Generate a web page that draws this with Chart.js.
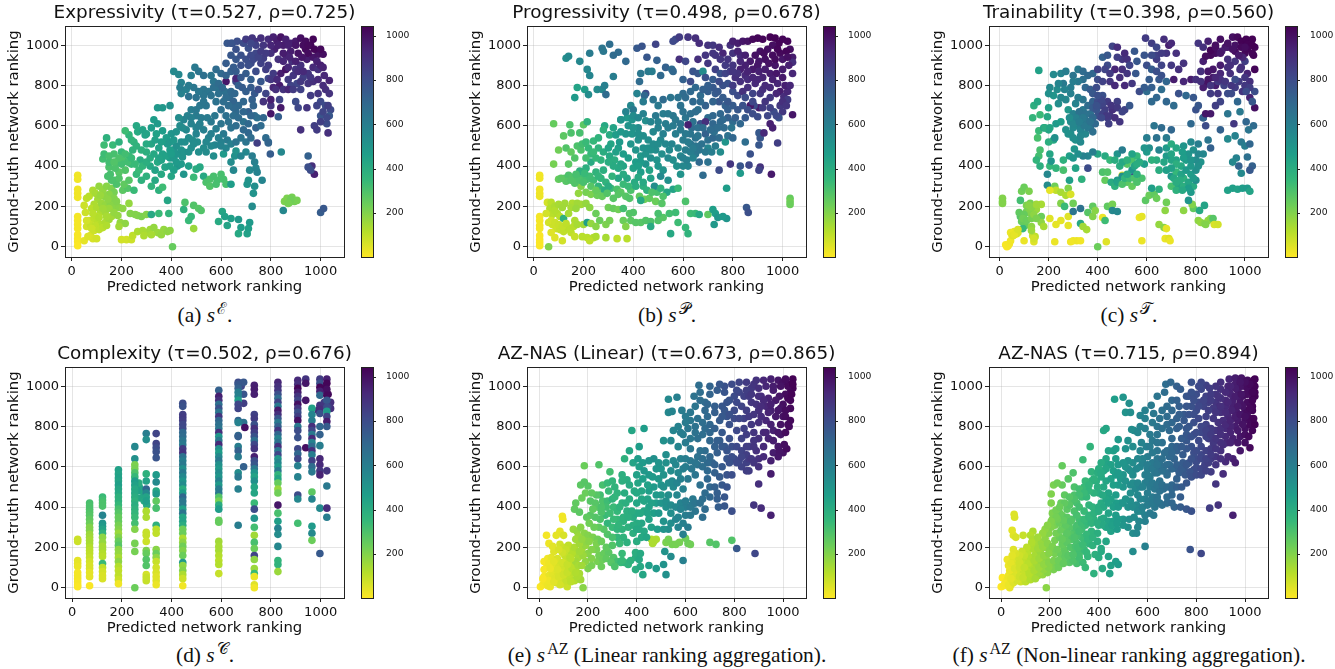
<!DOCTYPE html>
<html>
<head>
<meta charset="utf-8">
<script src="https://cdn.jsdelivr.net/npm/chart.js@4"></script>
<style>
  html, body { margin: 0; background: #fff; }
  canvas { position: absolute; }
  .cap { position: absolute; transform: translateX(-50%); white-space: nowrap; color: #111;
         font: 21.4px "Liberation Serif", serif; line-height: 24px; }
  .cap sup { font-size: 16px; line-height: 0; margin-left: 2px; }
</style>
</head>
<body>
<script>
// every row is [predicted rank, ground-truth rank, colour rank]; colour rank falls back to predicted rank
const expressivity = [
[24,355,20],[24,335,20],[24,285,22],[24,265,22],[24,245,22],[24,150,15],[24,130,15],[24,110,15],[24,90,15],[24,60,10],[24,40,10],[24,25,8],[24,5,5],
[50,205,80],[60,240,100],[70,250,110],[55,170,80],[60,100,70],[70,130,90],[75,55,60],[85,40,60],[50,30,40],[100,40,70],[65,50,55],
[85,280,130],[95,265,140],[110,300,170],[125,280,170],[140,300,190],[160,290,200],[170,270,220],[150,260,190],[130,250,180],[105,235,150],[90,210,130],[80,190,110],[100,195,130],[120,215,160],[135,205,170],[155,215,190],[170,200,190],[190,195,190],[205,190,180],[230,215,170],[115,170,130],[135,175,150],[150,190,160],[90,140,100],[105,120,110],[120,110,120],[75,110,90],[95,105,100],[135,120,130],[150,135,150],[160,150,150],
[195,120,170],[215,115,180],[190,100,150],[200,35,70],[220,35,70],[240,35,80],[245,55,100],[265,75,130],[285,80,140],[300,70,140],[315,85,150],[330,95,170],[345,70,160],[360,60,170],[370,85,170],[385,75,180],[395,80,180],[290,55,130],[320,60,140],
[235,165,200],[255,160,200],[265,155,200],[280,150,210],[300,160,200],[320,160,420],[350,165,340],[390,165,360],[470,130,340],[450,185,380],[480,150,350],[455,220,300],[490,205,290],[510,190,280],[520,180,290],[490,90,160],[405,0,250],[385,230,430],
[590,125,410],[605,175,430],[615,150,450],[640,140,460],[625,105,440],[670,135,490],[680,95,470],[670,65,420],[705,65,450],[710,90,460],[715,120,480],[725,200,540],[850,180,560],[1000,170,740],[1012,190,760],
[855,225,210],[865,240,210],[875,220,220],[885,245,220],[895,225,225],[905,230,220],[880,235,230],[870,215,220],
[130,505,330],[125,435,320],[130,460,330],[140,540,380],[150,395,300],[155,360,310],[165,505,340],[170,460,310],[180,420,290],[190,520,380],[200,470,340],[205,430,300],[215,380,290],[190,370,280],[170,330,310],[180,310,300],[205,280,270],[225,290,290],[250,280,340],[260,360,350],[240,410,340],[275,430,400],[230,450,340],[250,520,370],[265,570,410],[285,580,440],[295,555,450],[230,555,360],[215,575,330],[245,480,370],
[300,470,390],[320,510,430],[335,530,450],[350,490,450],[365,460,450],[315,400,420],[335,380,440],[350,440,440],[375,395,440],[395,440,470],[410,480,490],[385,510,480],[400,560,500],[365,575,470],[330,630,470],[345,610,480],[280,330,380],[300,350,380],[320,300,370],[350,280,380],[365,295,330],[335,330,420],
[425,400,500],[445,445,510],[450,360,500],[420,500,520],[440,520,530],[460,580,560],[480,610,580],[500,560,570],[505,520,540],[530,490,540],[480,490,530],[530,580,590],[550,540,580],[575,505,570],[560,620,620],[520,640,610],[500,650,610],[580,585,600],[610,560,620],[625,530,610],[640,590,650],
[500,385,400],[490,345,340],[515,395,420],[530,350,420],[540,320,300],[555,335,300],[570,350,310],[585,330,310],[600,360,310],[610,335,310],[620,310,310],[640,420,540],[610,460,480],[655,450,520],[660,475,510],[700,470,560],[680,450,570],[650,380,560],[640,310,470],
[705,310,500],[710,330,510],[715,380,560],[735,420,590],[725,450,600],[740,390,570],[745,370,580],[735,300,530],[730,265,510],[765,330,570],[780,540,680],[790,520,690],[798,460,740],[842,470,560],[710,565,700],[690,620,650],[740,590,720],[745,640,660],[735,650,670],[760,600,680],[770,640,700],[790,515,710],[745,515,850],
[560,850,640],[570,820,640],[585,790,650],[615,770,660],[635,740,690],[650,720,710],[590,760,660],[530,780,640],[470,745,650],[500,740,650],[540,700,640],[600,680,660],[620,650,660],[660,670,690],[690,720,700],[710,670,730],[725,730,720],[730,700,710],
[410,870,550],[430,855,560],[480,850,600],[495,890,620],[510,870,640],[460,780,590],[440,815,580],[530,850,660],[640,870,720],[620,910,740],[640,950,760],[660,930,760],[680,900,780],[700,860,740],[720,830,730],[740,870,800],[760,820,760],[625,1010,760],[645,1010,780],[665,1020,790],[690,1010,800],[710,985,790],[740,960,820],[660,820,800],[620,820,980],[660,835,930],[700,1030,860],[725,1035,880],[735,1020,880],
[760,1035,900],[770,1000,880],[790,1030,910],[810,1040,950],[825,1020,960],[840,1040,990],[850,1000,960],[815,980,950],[800,960,900],[770,935,850],[790,900,860],[780,880,850],[810,860,860],[840,860,960],[860,880,990],[835,800,960],[810,790,930],[780,760,830],[800,700,880],[770,720,890],[820,780,900],[835,730,830],[840,690,970],[800,660,980],[830,645,730],[800,730,950],[790,835,820],
[880,1010,950],[900,1020,970],[920,1035,1000],[940,1020,1010],[970,1030,1030],[960,1000,1030],[940,980,1020],[910,960,990],[880,970,960],[860,950,940],[885,920,900],[900,880,880],[920,900,900],[945,930,960],[970,940,980],[990,955,990],[1010,955,1000],[970,890,920],[990,880,900],[1015,850,930],[1035,825,940],[950,860,880],[930,840,850],[905,810,820],[880,800,830],[870,830,860],[920,780,840],
[960,750,860],[990,760,880],[1020,780,900],[1035,760,890],[1000,720,810],[1020,700,800],[1040,680,810],[1035,650,760],[1000,650,770],[1025,610,800],[1000,620,850],[975,600,850],[985,580,860],[1030,565,900],[920,580,900],[900,720,800],[910,690,820],[945,690,880],[965,400,900],[975,360,950],[950,450,720],[960,380,800],[950,395,790],
[170,240,200],[180,225,200],[145,235,180],[115,255,160],[125,190,150],[100,150,110],[85,165,110],[110,145,120],[140,150,140],[170,170,170],[185,155,170],[60,130,70],[90,80,80],[80,90,80],[110,85,100],[125,95,110],[140,105,125],
[210,310,260],[230,330,280],[190,340,290],[160,330,300],[145,350,310],[150,420,320],[175,390,300],[200,410,320],[225,420,320],[240,440,340],[255,410,340],[270,380,340],[285,400,360],[300,420,390],[315,440,400],[330,460,420],[345,420,420],[360,430,440],[380,450,450],[395,480,470],[410,440,490],[425,460,500],[440,480,510],[455,520,530],[470,540,540],[485,530,540],[500,590,570],[515,610,590],[380,540,470],[395,520,490],[410,530,490],[420,570,510],[435,600,540],[450,630,570],[465,650,580],[480,680,600],[500,680,620],[515,700,630],[530,720,640],[550,770,640],[570,790,660],[590,810,680],[605,790,690],[620,740,680],[640,770,690],[655,760,700],[670,800,730],[685,790,740],[700,770,730],[720,790,740],[735,760,750],[750,780,800],[660,870,740],[680,950,780],[700,930,790],[720,910,800],[740,1000,840],[760,910,840],[780,960,860],[830,930,900],[850,920,930],[870,890,930],[890,850,880],[910,870,910],[930,870,920],[950,810,880],[970,820,900],[990,830,920],[1010,800,910],[860,1030,950],[870,1000,950],[900,1000,980],[930,1000,1010],[950,1000,1020],[1000,900,950],[1030,700,850],[1010,670,830],[1025,640,820],[985,700,830],[560,500,560],[600,520,590],[540,470,540],[570,450,530],[470,400,460],[440,410,480],[410,380,460],[395,400,450],[360,360,420],[400,350,430],[555,300,290],[580,310,310],
[260,600,420],[300,560,440],[320,590,470],[345,690,490],[395,700,520],[365,690,490],[440,760,580],[430,640,540],[445,590,540],[480,640,590],[510,600,590],[545,640,610],[575,650,630],[600,610,640],[630,620,650],[650,650,670],[670,640,680],[690,580,690],[710,610,690],[720,650,700],[690,670,700],[670,700,690],[650,690,690],[630,700,680],[610,720,670],[580,720,650],[560,750,650],[530,750,640],[510,770,630],[490,790,630],[470,800,610],[435,790,600],[600,860,690],[580,880,680],[620,850,710],[650,890,740],[680,840,750],[710,900,790],[730,930,810],[660,980,780],[640,1010,770],[720,950,810],[750,940,830],[800,830,870],[825,830,920],[850,780,890],[870,780,930],[890,780,860],[920,820,870],[850,960,960],[875,940,940],[900,920,950],[925,940,980],[950,960,1010],[975,980,1030],[1000,980,1020],[985,920,950],[1010,890,940],[960,840,880],[800,1000,930],[830,1000,950],[760,970,860],[720,1010,820],[420,420,480],[400,460,470],[450,470,510],[470,470,520],[490,510,540],[510,470,530],[540,520,560],[560,560,590],[590,540,590],[600,500,580],[620,490,570],[640,510,590],[660,520,640],[680,540,640],[700,520,640],[720,540,680],[660,600,670],[240,530,360],[260,500,370],[280,480,380],[300,510,410],[340,560,450],[360,520,460],[190,440,300],[215,460,320],[170,420,290],[150,450,310]
];
const progressivity = [
[24,355,20],[24,340,20],[24,285,22],[24,265,22],[24,250,25],[24,150,15],[24,130,15],[24,105,15],[24,90,15],[24,55,8],[24,35,8],[24,20,5],[24,5,5],[60,0,200],
[55,220,70],[70,220,110],[65,190,120],[75,160,110],[50,165,70],[85,200,130],[95,165,120],[105,150,110],[60,120,70],[75,110,80],[90,90,80],[105,85,90],[120,75,100],[135,95,110],[150,70,100],[70,70,50],[85,45,50],[115,30,70],[165,50,90],[195,50,110],[215,45,110],[240,45,120],[250,50,130],[225,30,100],[290,45,140],[335,40,100],[375,40,110],
[155,215,130],[175,215,150],[190,210,150],[125,215,150],[120,140,380],[165,130,130],[200,110,150],[215,120,460],[230,115,170],[250,165,240],[265,130,240],[250,100,190],[290,110,210],[305,130,220],[300,195,230],[320,190,250],[340,185,230],[360,130,240],[370,100,200],[390,130,270],[410,120,280],[360,190,320],[385,165,280],[400,170,290],
[180,265,170],[190,300,200],[210,270,220],[230,260,210],[255,255,240],[270,285,260],[290,320,370],[310,290,340],[335,285,300],[350,270,270],[370,250,280],[385,240,290],[425,250,260],[445,235,230],[465,240,260],[490,225,240],[515,215,280],[495,270,310],[535,270,430],[560,285,440],[580,290,340],[610,225,300],[430,230,420],
[100,335,250],[125,340,290],[140,355,300],[155,345,290],[175,340,300],[195,350,320],[215,335,320],[240,330,330],[165,315,290],[130,325,280],[185,375,380],[210,390,390],[230,420,410],[250,370,370],[260,300,360],[285,280,400],[300,300,400],[340,340,430],[315,350,370],[80,410,220],[140,410,270],[165,440,290],[190,480,300],[100,480,230],[130,490,290],[150,470,260],[175,500,300],[195,510,320],[220,490,350],[240,525,350],[260,490,370],[280,470,400],[305,450,420],[325,430,400],[310,510,430],[340,490,460],
[120,550,270],[150,565,300],[185,565,310],[285,600,420],[80,610,250],[145,605,300],[200,605,270],[215,620,370],[280,580,380],[305,555,410],[330,555,470],[350,630,500],[375,640,490],[395,630,500],[420,590,540],[450,625,530],[345,520,480],[370,560,500],[390,510,500],[410,480,500],[430,450,490],[450,410,510],[470,440,530],[490,480,540],[510,530,560],[480,570,560],[530,610,600],[560,600,610],[500,400,500],[520,380,510],[540,440,550],[555,510,570],[580,490,560],[470,340,450],[485,300,530],[510,350,550],[540,330,520],[360,400,440],[400,390,450],[430,370,470],[465,380,440],[380,440,470],[350,410,430],[375,340,430],[600,530,610],[590,450,560],[610,480,600],[630,510,640],[650,540,650],[620,400,570],[590,360,510],[650,460,630],[665,420,690],[680,355,680],[635,590,680],
[600,440,590],[430,120,280],[450,130,290],[470,125,300],[500,130,290],[520,145,280],[470,100,410],[500,165,310],[545,165,320],[570,170,330],[630,165,330],[650,165,340],[665,160,420],[700,160,260],[720,185,460],[730,165,470],[740,145,500],[775,140,500],[760,150,480],[725,110,490],[550,65,420],[580,120,330],[610,95,350],[620,65,370],[775,290,470],[830,365,480],[1030,240,250],[1030,225,230],[1030,210,240],[855,195,760],[862,170,790],
[165,740,480],[175,790,440],[205,780,470],[220,755,540],[255,780,540],[275,780,560],[290,755,680],[285,800,590],[215,880,560],[225,850,570],[130,935,530],[140,945,550],[185,920,560],[225,960,610],[275,985,640],[305,1005,670],[320,950,680],[340,965,680],[370,920,690],[320,845,600],[280,970,630],[415,985,750],[435,995,770],[455,940,760],[490,1005,830],[495,925,720],[530,890,720],[510,850,690],[555,880,680],[585,930,900],[610,920,820],[430,860,630],[460,870,620],[475,870,600],[425,820,680],[450,760,800],[445,750,700],
[415,760,580],[440,720,610],[480,730,640],[390,700,560],[400,680,620],[370,670,570],[350,630,510],[520,730,680],[490,650,620],[500,700,620],[550,740,640],[560,650,630],[590,700,650],[560,870,700],[600,830,720],[630,820,800],[640,870,770],[660,860,760],[680,870,540],[600,760,680],[650,790,690],[670,750,680],[640,720,690],[660,680,660],[690,700,720],[700,640,670],[720,610,700],[670,610,780],[640,620,650],[630,560,640],[660,590,660],[690,560,720],[700,530,660],[720,540,700],[700,490,570],[730,500,610],[750,470,540],[745,540,680],[770,520,500],[780,550,650],
[570,1030,820],[585,1040,860],[620,1040,880],[650,1035,900],[560,1020,810],[665,1010,910],[700,1000,890],[720,1000,870],[745,990,900],[690,950,880],[660,930,900],[700,910,870],[730,880,840],[750,860,780],[720,830,740],[800,770,790],[780,810,780],[820,750,800],[770,700,720],[800,700,740],[750,660,700],[800,620,680],[830,610,700],[810,640,730],[780,720,760],[760,800,780],
[790,1000,900],[800,960,890],[830,950,920],[760,960,930],[800,1020,950],[820,1010,960],[840,1020,980],[860,1020,990],[880,1030,1020],[900,1035,1030],[920,1030,1030],[950,1040,1040],[970,1035,1040],[985,1010,1030],[1000,1030,1030],[1020,1020,1030],[1030,980,1000],[1040,940,960],[1040,915,900],[1040,860,930],[960,1000,1000],[940,980,1000],[910,970,990],[890,950,990],[870,920,970],[850,900,950],[830,880,950],[810,840,900],[850,850,920],[880,880,970],[900,900,980],[930,930,1000],[960,950,1010],[990,960,1020],[1000,930,980],[970,900,980],[950,860,960],[920,840,940],[890,810,920],[860,790,900],[840,770,900],[880,760,830],[910,760,870],[950,790,920],[980,810,930],[1000,840,970],[990,770,960],[1005,745,910],[1020,770,930],[1020,730,860],[990,700,870],[1000,670,870],[985,640,780],[965,670,800],[930,720,880],[950,690,840],[905,690,960],[885,700,800],[940,650,820],[900,645,800],[870,700,970],[950,610,950],[960,590,950],[1040,655,980],[910,540,760],[905,565,750],[870,460,780],[850,520,670],[800,540,700],[790,410,880],[830,400,770],[865,405,820],[910,395,890],[905,380,830],[745,380,800],[690,620,900],[620,605,950],[955,360,970],[980,515,850],[905,505,760],[925,565,920],
[110,340,270],[150,330,290],[185,330,300],[200,320,310],[225,350,330],[170,360,310],[205,365,340],[270,340,370],[230,300,280],[250,280,250],[275,250,250],[295,265,290],[320,240,280],[340,260,280],[360,310,340],[390,280,300],[405,320,410],[420,345,420],[440,300,390],[455,280,380],[475,270,300],[510,290,380],[520,250,300],[410,420,470],[430,420,480],[450,460,510],[470,480,520],[495,430,510],[515,460,530],[530,510,560],[545,480,550],[560,430,530],[575,400,520],[600,400,560],[615,430,590],[630,470,600],[640,440,580],[665,480,640],[675,510,650],[690,470,620],[700,420,650],[715,470,600],[650,500,640],[610,560,620],[590,580,620],[570,560,600],[540,590,600],[520,560,590],[500,590,580],[460,530,530],[440,550,530],[420,530,520],[395,560,500],[360,460,470],[330,470,450],[300,490,440],[270,430,370],[250,440,350],[230,460,350],[210,440,320],[70,130,70],[85,120,80],[100,110,85],[115,100,95],[130,115,100],[145,85,105],[160,100,115],[175,110,140],[85,180,120],[100,210,140],[115,195,150],[140,165,140],[150,195,140],[170,190,160],[210,215,170],[225,195,180],[725,570,660],[735,590,680],[750,620,690],[765,590,680],[780,640,720],[795,590,640],[720,650,700],[745,720,760],[730,760,740],[720,790,750],[700,770,730],[690,840,780],[745,820,800],[770,860,830],[790,870,850],[820,860,890],[800,900,880],[770,900,860],[730,950,880],[800,800,860],[830,820,900],[860,830,910],[880,840,930],[905,870,950],[930,880,960],[975,860,980],[1000,880,960],[1025,900,950],[975,760,930],[950,740,870],[920,780,900],[880,720,820],[850,740,800],[860,680,800],
[380,600,510],[400,650,540],[420,640,560],[440,660,580],[470,620,570],[500,620,590],[520,660,600],[540,660,610],[570,630,620],[590,610,640],[610,640,640],[630,660,660],[600,670,650],[580,740,650],[610,740,680],[630,770,690],[680,780,720],[700,800,730],[720,720,710],[740,770,750],[760,740,740],[780,680,730],[760,630,690],[740,590,680],[710,580,680],[660,550,640],[640,490,610],[620,520,610],[680,590,680],[650,670,670],[670,720,690],[440,320,420],[410,300,400],[380,300,340],[360,360,410],[340,390,420],[320,400,410],[300,420,400],[280,380,390],[260,350,360],[420,400,460],[440,490,520],[460,490,520],[480,510,540],[500,510,540],[420,560,520],[400,590,510],[350,570,490],[320,590,440],[260,540,370],[240,470,340],[210,520,340],[905,920,980],[925,960,1010],[945,910,990],[970,930,1010],[980,980,1030],[1015,970,1030],[1020,940,1000],[850,950,950],[820,970,940],[780,930,880],[750,930,880],[720,960,880],[830,920,930],[800,870,880],[860,870,940],[900,830,930],[930,800,920],[960,830,950],[1010,800,950],[1030,800,930],[840,700,780],[820,680,760],[850,640,750],[880,660,800],[920,690,860],[1000,720,900],[1015,700,880],[975,650,810]
];
const trainability = [
[12,240,200],[12,225,200],[12,215,200],[25,10,10],[30,0,8],[35,5,12],[40,15,15],[45,30,20],[50,60,30],[60,75,40],[65,65,60],[45,70,30],[55,55,50],[75,70,70],
[100,30,30],[140,25,50],[135,55,80],[145,50,100],[105,105,250],[95,90,350],[90,125,250],[85,150,280],[80,170,260],[85,230,320],[90,275,230],[100,295,240],[120,275,210],[125,215,220],[110,205,210],[120,190,180],[135,180,200],[150,185,160],[170,210,140],[170,150,240],[170,120,180],[180,100,140],[130,100,180],[130,80,160],[140,40,70],
[165,480,310],[160,450,320],[150,430,360],[165,400,390],[155,540,310],[160,575,340],[135,640,360],[165,655,340],[140,700,390],[155,720,420],[200,690,450],[195,645,420],[200,580,430],[220,530,420],[200,520,390],[225,540,520],[180,590,440],[205,400,350],[210,425,500],[205,460,430],[195,360,560],[230,390,360],[260,380,310],[260,430,380],[285,450,460],[305,485,500],[310,390,440],[360,390,800],[335,335,380],[285,330,460],[195,305,540],[225,300,230],[230,280,100],[250,270,140],[270,255,130],[280,290,200],[290,260,60],[205,280,40],[250,215,200],
[265,200,340],[280,150,50],[300,215,230],[300,175,640],[330,190,650],[330,115,420],[355,85,140],[340,100,150],[315,30,30],[300,30,25],[290,25,20],[330,30,20],[225,25,30],[230,110,40],[250,130,40],[205,140,50],[280,105,40],[360,170,280],[380,200,260],[380,150,200],[390,180,190],[420,145,30],[400,0,240],[430,130,330],[435,25,50],[440,200,260],[460,210,220],[460,180,560],[480,175,560],[500,355,30],
[570,145,25],[580,150,40],[580,30,30],[595,230,270],[610,255,240],[630,260,260],[640,240,240],[650,285,380],[620,290,460],[650,110,170],[670,95,190],[680,90,40],[675,40,30],[690,40,50],[695,30,30],[675,180,180],[680,220,230],[750,180,180],[790,190,260],[785,210,200],[815,180,420],[835,205,440],
[810,130,180],[820,120,170],[835,115,190],[850,130,170],[860,140,190],[870,140,280],[875,110,60],[890,110,70],[840,110,200],
[930,280,450],[950,290,460],[970,285,450],[990,290,470],[1010,290,480],[1020,275,440],
[420,370,300],[440,370,290],[430,330,250],[455,320,410],[470,300,380],[480,330,480],[500,350,520],[520,320,270],[540,300,250],[560,320,300],[580,340,310],[520,410,280],[540,430,300],[560,450,350],[590,410,470],[540,380,500],[545,345,800],[400,460,430],[430,450,410],[450,430,350],[480,460,510],[490,400,400],[380,470,600],[360,450,570],[340,450,580],[320,460,530],[300,440,500],[470,430,400],[500,480,600],[540,460,440],
[650,380,400],[680,380,460],[700,350,500],[720,370,350],[740,400,420],[760,430,470],[730,300,430],[700,300,310],[720,280,380],[750,340,380],[780,360,470],[800,380,520],[820,420,510],[830,460,560],[790,300,410],[780,270,480],[770,230,500],[800,330,530],[680,490,480],[700,510,400],[720,490,420],[750,500,500],[780,520,550],[810,510,600],[640,540,650],[650,480,570],[610,490,530],[600,540,600],[630,600,640],[660,590,680],[680,540,610],[700,580,700],[780,610,690],[830,640,740],[850,530,640],[860,490,720],[800,680,780],[830,640,720],
[185,590,400],[205,590,430],[230,610,480],[250,620,470],[270,580,520],[290,560,530],[310,530,520],[330,520,550],[350,560,560],[370,590,640],[390,610,690],[290,620,530],[280,680,490],[240,710,530],[220,750,500],[205,790,550],[235,780,540],[250,740,560],[270,730,560],[300,660,580],[320,650,600],[340,680,620],[310,710,580],[360,700,680],[380,720,720],[410,700,810],[430,680,850],[450,650,870],[470,640,900],[490,620,880],[370,660,660],[350,630,650],[325,670,650],[400,650,780],[420,750,780],[440,720,860],[460,680,900],[480,720,850],[510,680,830],[530,700,760],[160,875,450],[220,855,550],[250,860,570],[270,870,600],[300,850,640],[320,880,620],[340,870,680],[360,850,690],[380,860,700],[260,810,620],[290,790,600],[350,790,700],[370,780,740],[395,790,800],[400,880,840],[420,940,720],[460,995,830],[480,990,910],[500,930,880],[510,960,920],[550,970,760],[440,900,800],[470,880,930],[500,880,900],[520,860,880],[555,860,760],[570,770,800],[540,810,870],[510,800,920],[490,840,900],[430,880,830],
[595,1035,860],[620,1010,850],[640,990,820],[670,1030,900],[690,1000,950],[640,930,860],[660,900,830],[600,900,790],[590,950,770],[620,880,740],[680,960,880],[700,900,870],[730,880,900],[750,910,890],[650,830,750],[680,820,700],[710,830,960],[750,820,930],[780,830,960],[800,830,900],[640,740,700],[660,780,670],[600,770,680],[620,720,690],[680,720,700],[710,700,680],[730,760,780],[760,750,690],[790,740,760],[810,700,760],[810,1010,880],[830,990,900],[850,1020,950],[860,950,1020],[880,960,1010],[900,1030,1000],[920,990,980],[950,1040,1000],[970,1040,1020],[985,1020,1040],[1005,1030,1040],[1030,1030,1040],[1040,990,1030],[1035,950,1030],[1000,960,1020],[960,970,1010],[930,930,900],[900,900,960],[870,880,980],[830,920,950],[820,870,900],[850,830,980],[880,800,960],[910,820,900],[940,860,900],[980,880,890],[1000,920,850],[1010,860,940],[1040,880,1030],[1020,820,900],[990,770,880],[960,790,860],[930,760,800],[900,720,830],[880,700,850],[860,660,970],[840,660,980],[1020,740,940],[1040,770,790],[1040,690,1000],[1030,720,760],[970,720,700],[980,670,620],[930,660,640],[955,610,870],[900,580,720],[960,550,580],[1005,620,700],[1035,600,680],[1015,580,640],[985,520,620],[1000,500,600],[1020,510,700],[965,440,580],[1010,445,660],[1030,400,720],[1020,380,750],[975,400,720],[950,420,560],[985,365,550],[930,535,550],[840,600,800],
[320,600,590],[340,620,610],[360,610,640],[330,580,570],[300,590,550],[310,640,590],[350,660,650],[380,690,740],[400,720,800],[420,660,840],[440,640,860],[420,710,830],[400,700,820],[380,640,690],[280,560,520],[300,540,530],[330,550,560],[710,340,420],[730,330,400],[750,300,390],[770,320,430],[740,360,440],[760,380,480],[780,400,490],[800,430,540],[770,460,500],[745,470,470],[720,430,440],[700,430,430],[680,450,480],[790,480,520],[810,460,560],[480,320,440],[500,310,300],[510,340,360],[530,340,330],[550,340,300],[560,360,380],[520,360,420],[550,400,430],[570,420,400],[500,420,420],[70,65,60],[60,60,40],[75,85,60],[110,175,220],[120,170,200],[100,160,250],[95,140,230],[110,130,240],[130,140,220],[140,160,180],[150,140,210],[130,195,190],[150,210,150],[120,205,190],[840,945,1010],[860,975,1030],[880,990,1000],[905,970,960],[930,990,970],[960,1000,990],[985,990,1020],[1010,1005,1040],[1030,1000,1040],[1010,980,1030],[990,940,940],[960,920,880],[930,890,900],[900,860,930],[870,840,970],[845,810,990],[830,790,960],[860,800,880],[890,820,870],[915,800,840],[945,800,880],[975,820,860],[1000,800,870],[960,830,800],
[300,610,560],[340,640,620],[360,590,620],[380,570,660],[345,600,620],[325,620,600],[285,640,540],[370,620,650],[395,680,770],[415,730,820],[435,650,870],[455,700,880],[445,610,850],[395,700,780],[415,640,810],[480,690,870],[500,670,830],[380,760,760],[400,750,790],[340,730,640],[320,740,600],[290,760,590],[265,780,580],[240,810,570],[700,460,430],[720,410,390],[750,440,470],[780,430,500],[810,400,520],[790,340,480],[770,290,470],[735,330,400],[745,280,420],[720,320,400],[700,390,450],[670,420,430],[640,430,400],[620,430,380],[600,470,480],[590,490,500],[560,410,400],[520,430,380],[880,1000,1000],[900,960,980],[930,1010,990],[950,980,990],[975,950,970],[1000,990,1010],[1030,960,1030],[985,890,900],[940,900,900],[900,830,900],[880,840,930],[850,870,980],[820,820,900],[860,760,860],[890,760,880],[920,820,880],[945,760,800],[1000,840,880],[1020,790,850],[1005,770,800],[640,950,840],[660,960,860],[720,960,900],[700,1010,920],[620,950,800],[640,870,790],[610,830,740],[660,850,780],[590,790,740],[620,790,730],[520,930,900],[480,940,850],[530,900,830],[560,920,760],[440,950,760],[400,830,800],[420,820,840],[450,820,880],[470,800,920],[450,860,860],[340,830,660],[320,820,620],[300,820,600],[200,760,520]
];
const complexity = [
[270,500,440],[280,480,430],[290,460,430],[268,520,400],[262,480,450],[275,445,430],[290,430,420],[300,410,420],[1040,920,900],[1030,960,1020],[1040,890,900],[1010,980,900],[1020,1000,1030],[1030,900,850],[1015,920,860],[1000,900,850],[990,880,930],[668,1020,800],[680,1000,820],[690,1020,760],[690,960,770],[690,915,850],[668,830,700],[690,820,650],[695,795,1000],[668,755,680],[690,600,720],[940,695,1000]
];
const columnX = [22,70,122,186,252,298,338,445,590,668,733,828,908,940,965,997,1025];
const columnY = [
[240,230,135,120,105,75,60,45,30,15,5],
[420,405,390,375,360,340,320,300,285,265,250,235,220,200,185,170,150,130,110,95,75,55,10],
[450,435,420,405,360,320,305,290,270,250,225,205,190,170,155,120,100,80,60,45],
[585,565,545,530,510,490,470,450,430,410,390,370,350,330,310,290,270,250,230,210,190,170,150,130,105,85,60,40,20],
[700,640,610,590,570,550,530,510,490,470,450,430,410,390,370,350,320,290,220,180,0],
[765,735,565,530,490,470,450,430,380,350,275,260,230,185,170,140,110,65,50,35],
[765,715,695,675,645,560,525,480,465,430,395,310,290,270,190,170,150,130,100,75,55,35,15],
[915,900,860,845,830,810,790,770,750,730,710,690,670,650,630,610,590,570,550,530,510,490,470,450,430,410,390,370,350,330,310,290,270,245,225,205,185,160,125,110,85,65,45,10],
[980,950,930,910,890,870,850,830,810,790,770,750,730,710,690,670,650,630,610,590,570,550,530,510,490,470,450,430,410,390,335,325,230,205,185,160,135,115,70],
[1010,990,970,950,930,910,890,820,750,700,680,650,570,550,490,310],
[1005,985,960,860,840,810,790,770,750,730,710,690,650,630,610,590,570,550,530,500,470,420,390,345,300,260,225,195,160,140,95,70,55,15,0],
[1020,1000,980,960,940,920,900,880,860,840,820,800,780,760,740,720,700,680,660,640,620,600,580,560,540,520,490,470,410,370,330,295,265,205,135,115,80],
[1030,1010,990,970,950,930,910,890,870,850,830,800,780,745,690,665,640,605,550,460,440,320],
[1035,1015,930],
[890,860,830,800,780,760,740,720,700,680,660,630,600,575,475,440,305,270,235],
[1035,1015,995,975,955,905,885,865,800,760,705,640,610,580,560,395,170],
[1035,1015,985,955,930,895,875,850,825,800,580,505,395,350]
];
const columnC = [
[80,80,40,40,30,15,15,15,10,10,5],
[310,300,300,290,280,260,240,200,200,160,150,140,140,120,110,100,90,70,60,60,40,40,8],
[340,320,300,300,570,500,480,440,370,180,170,140,140,120,110,340,100,70,60,60],
[450,440,450,440,460,430,420,380,380,350,310,280,250,250,220,200,160,200,250,280,180,170,140,180,120,100,100,80,20],
[560,520,210,220,300,350,470,450,420,420,400,380,400,380,360,340,320,200,220,220,240],
[600,530,380,440,700,560,440,460,130,130,90,90,80,210,250,290,290,70,90,90],
[830,830,800,780,770,480,550,420,480,260,310,380,110,100,190,240,180,90,70,60,50,50,30],
[800,780,850,860,850,820,810,690,680,640,620,860,880,650,600,620,530,620,560,500,540,400,470,700,630,620,460,640,430,440,400,230,240,130,180,230,200,240,480,180,200,130,80,20],
[720,950,900,660,780,640,880,700,660,640,900,500,630,920,530,470,560,620,520,490,540,500,580,480,600,620,290,220,400,470,250,250,150,140,140,120,110,120,90],
[760,720,600,590,470,820,830,580,730,600,720,610,540,620,590,600],
[950,960,950,840,860,780,900,850,780,670,820,880,950,790,760,620,500,440,520,430,430,340,800,500,320,150,310,240,830,180,160,340,30,50,20],
[930,900,880,790,680,830,620,970,900,760,620,720,880,700,580,650,900,630,820,500,560,490,620,360,430,250,170,230,980,310,460,580,540,560,360,370,160],
[920,900,1030,960,880,830,1000,880,790,850,1000,620,800,780,820,700,820,590,580,800,560,320],
[880,980,980],
[450,570,600,900,820,620,920,580,680,900,600,840,680,620,270,570,480,550,240],
[860,780,1030,950,690,880,910,780,700,720,600,930,920,880,940,550,750],
[950,1030,1000,1020,760,800,480,830,960,740,880,620,910,600]
];
columnX.forEach((x, i) => columnY[i].forEach((y, j) => complexity.push([x, y, columnC[i][j]])));
const azLinear = [
[5,5,6],[15,15,10],[25,30,20],[35,10,25],[20,55,15],[45,5,30],[50,30,30],[40,60,35],[55,65,45],[30,100,20],[20,130,12],[35,145,20],[50,150,40],[60,110,45],[75,75,55],[85,40,70],[70,25,65],[95,20,70],[115,5,80],[110,35,90],[125,55,100],[100,90,70],[90,60,75],[145,35,120],[170,40,150],[180,0,190],[165,70,140],[150,95,120],[130,120,100],[110,135,90],[85,120,70],[60,180,50],[40,220,25],[55,205,45],[85,215,70],[100,200,80],[120,210,100],[140,170,120],[160,150,140],[175,190,150],[190,210,170],[130,180,120],[105,160,90],[75,145,60],[30,260,15],[70,260,40],[85,280,40],[100,260,60],[95,355,20],[97,340,20],
[140,290,160],[155,280,170],[170,300,190],[185,270,190],[200,260,200],[220,250,210],[240,240,230],[160,255,160],[190,230,180],[150,130,150],[190,130,180],[200,95,210],[215,110,220],[240,130,220],[255,105,240],[245,160,230],[265,170,250],[285,175,270],[305,150,290],[320,130,320],[335,125,340],[350,125,360],[365,115,370],[395,150,400],[410,140,420],[395,90,400],[415,105,420],[425,65,430],[450,110,460],[480,95,480],[510,115,510],[520,65,520],[540,155,540],[590,135,590],[515,180,510],
[460,240,120],[470,230,130],[480,240,130],[465,220,130],[520,225,210],[530,240,220],[545,215,220],[560,215,220],[575,225,220],[600,245,230],[610,220,240],[620,215,230],[700,225,280],[725,215,290],[790,235,290],[810,195,760],[885,170,820],
[145,390,260],[150,420,260],[165,375,270],[170,510,270],[185,525,280],[200,505,280],[190,470,240],[175,445,240],[210,430,280],[230,420,280],[240,400,280],[250,460,320],[260,430,300],[285,480,340],[280,430,330],[300,440,370],[305,400,340],[320,380,350],[270,360,340],[250,340,300],[230,350,290],[210,360,280],[195,350,260],[280,320,360],[300,300,340],[320,290,360],[340,290,370],[320,250,360],[340,170,340],[330,220,340],[400,230,400],[410,290,410],
[185,605,240],[245,610,290],[290,575,320],[360,535,400],[340,560,390],[350,640,380],[380,780,430],[430,790,470],[410,700,470],[370,680,430],[385,620,440],[410,600,460],[430,580,490],[450,560,490],[400,560,450],[370,510,410],[350,470,400],[340,530,390],[310,500,370],[370,440,400],[400,420,430],[420,480,430],[450,480,460],[470,500,480],[500,510,500],[480,420,470],[450,400,450],[430,380,430],[470,370,460],[450,340,440],[420,320,430],[430,280,420],[460,300,450],[485,290,470],[510,330,510],[540,320,530],[570,300,570],[590,265,590],[530,290,530],[560,340,560],[600,360,600],[610,300,610],[620,360,620],[540,370,530],[530,460,530],[510,500,520],[490,540,490],[500,590,500],[520,620,520],[550,630,550],[570,570,560],[590,590,590],[610,540,620],[640,560,640],[660,510,660],[590,490,590],[630,440,620],[670,440,670],[700,450,700],[680,390,680],[670,350,670],[730,440,730],[760,450,760],[735,400,735],[760,405,760],[790,380,790],[750,510,750],[770,500,770],[720,570,720],[690,540,700],
[530,935,550],[565,945,590],[530,870,560],[545,875,570],[585,880,600],[620,870,630],[640,900,640],[660,930,670],[635,950,650],[655,1005,670],[680,920,680],[700,960,710],[730,980,740],[750,900,760],[720,870,730],[680,880,690],[550,780,570],[580,770,600],[610,790,630],[540,730,560],[510,730,520],[520,660,530],[570,700,570],[600,720,610],[620,690,630],[650,740,660],[640,800,650],[680,790,680],[700,730,700],[730,670,730],[710,620,710],[690,620,690],[650,610,650],[620,630,630],[750,600,750],[770,640,770],[790,700,790],[750,770,750],[780,810,780],[810,780,810],[830,740,830],[800,640,800],[830,600,830],[850,620,840],[860,700,860],[860,580,860],[840,840,840],[800,880,800],[830,900,830],[760,1000,780],[790,1010,800],[820,1020,830],[850,1020,860],[870,990,870],[880,1010,880],[800,950,800],[840,950,840],[870,920,880],[900,880,900],[930,900,930],[900,820,900],[930,830,930],[960,780,950],[990,760,980],[1020,810,1010],[1000,850,990],[880,770,880],[920,700,920],[890,680,900],[950,630,950],[960,670,960],[1000,670,990],[1015,690,1015],[980,700,980],[950,565,960],[900,515,900],[880,410,880],[910,395,910],[950,360,950],[860,640,860],
[920,1030,930],[950,1035,950],[980,1030,980],[1000,1020,1000],[1040,1035,1040],[1030,1010,1030],[1040,990,1040],[1030,970,1030],[1010,960,1010],[985,950,985],[960,980,960],[930,1000,930],[1000,910,1000],[970,930,970],[940,940,940],[910,950,910],[1030,890,1020],[990,890,990],[950,880,950],[1020,940,1025],
[20,90,12],[40,120,25],[60,90,45],[80,100,60],[100,110,75],[120,85,90],[140,75,110],[155,55,130],[130,30,105],[40,35,25],[65,45,50],[85,15,65],[15,45,10],[110,190,90],[125,150,105],[145,200,130],[165,220,150],[150,240,150],[175,240,170],[205,230,190],[225,190,200],[200,170,190],[215,145,200],[235,190,220],[260,140,240],[275,145,260],[295,125,280],[310,105,300],[340,135,340],[375,135,380],[395,175,395],[415,170,415],
[220,390,260],[255,375,300],[290,370,330],[320,340,350],[345,330,380],[365,300,380],[385,270,390],[345,250,370],[360,225,380],[260,510,310],[280,520,340],[300,530,360],[320,470,370],[340,420,380],[360,380,390],[385,350,410],[400,320,410],[415,370,420],[430,430,430],[445,440,440],[460,420,450],[390,480,410],[405,520,430],[425,540,460],[445,510,450],[465,550,480],[480,590,500],[405,640,470],[425,620,480],[450,630,500],[470,640,520],[490,620,510],[510,560,510],[530,520,530],[550,500,550],[565,460,560],[580,420,580],[600,400,600],[625,410,620],[640,380,640],[500,420,500],[520,400,520],[490,370,490],[510,290,510],[570,350,570],[590,320,590],[545,530,550],[565,520,570],[580,540,590],[600,600,600],[625,590,630],[650,650,650],[670,600,670],[690,580,690],[700,650,700],[720,610,720],[740,550,740],[770,560,770],[790,560,790],[720,700,720],[740,730,740],[760,700,760],[780,740,780],[810,700,810],[830,680,830],[850,660,850],[870,640,870],[880,700,880],[850,760,850],[870,810,870],[840,790,840],[800,840,800],[770,850,770],[740,830,740],[700,810,700],[670,820,670],[650,840,650],[620,830,630],[600,850,610],[690,850,690],[720,790,720],[760,880,760],[780,930,780],[810,920,810],[850,880,850],[890,910,890],[910,850,910],[940,870,940],[970,850,970],[990,810,990],[1010,880,1010],[1030,930,1030],[950,810,950],[920,770,920],[900,740,900],[940,740,940],[980,770,980],[1010,770,1010],[985,680,985],[900,640,900],[880,620,880],[850,580,850],[820,630,820],[760,970,770],[740,1010,760],[820,970,830],[890,1030,890],[900,990,900],[860,950,860],[900,950,900],[960,1000,960],[990,1000,990],[1020,1000,1020],[1035,960,1035],[1040,1010,1040],[1010,1035,1010],
[60,30,45],[80,55,60],[100,65,75],[115,75,90],[135,95,110],[75,90,55],[45,95,30],[60,130,45],[95,125,70],[115,115,90],[150,75,125],[130,145,110],[95,175,75],[80,190,60],[160,110,140],[175,110,150],[180,160,160],[165,180,150],[215,190,200],[235,220,210],[255,230,240],[275,200,260],[300,210,290],[280,265,290],[300,250,310],[265,290,280],[245,300,260],[225,300,240],[205,320,230],[305,340,340],[325,310,360],[345,350,380],[365,350,390],[385,310,400],[400,290,420],[420,250,420],[440,250,430],[445,370,440],[400,370,420],[380,380,400],[355,420,390],[330,400,370],[310,450,360],[275,400,320],[255,400,300],[235,460,280],[215,470,260],[400,470,420],[420,440,430],[480,460,480],[500,460,490],[520,430,520],[540,410,540],[560,400,560],[580,390,580],[600,430,600],[620,400,620],[640,420,640],[660,420,660],[680,470,680],[700,500,700],[720,500,720],[730,470,730],[540,580,540],[560,610,560],[580,640,580],[600,640,600],[640,620,640],[670,640,670],[680,680,680],[660,680,660],[620,740,630],[590,760,600],[570,800,580],[600,820,610],[640,770,650],[670,760,670],[700,770,700],[730,730,730],[750,700,750],[770,680,770],[790,650,790],[810,620,810],[780,620,780],[820,840,820],[860,850,860],[880,860,880],[780,860,780],[750,850,750],[720,900,730],[690,910,700],[660,970,670],[700,1000,710],[770,920,770],[810,980,810],[850,980,850],[870,960,870],[920,930,920],[910,900,910],[950,910,950],[980,880,980],[1010,850,1010],[1030,830,1020],[960,730,960],[930,770,930],[880,730,880],[850,700,850],[830,650,830],[900,600,900],[920,650,920],[980,650,980],[1005,710,1005],[1025,800,1015]
];
const azNonLinear = [
[0,5],[10,10],[20,25],[35,0],[5,50],[25,40],[40,15],[45,35],[30,60],[60,45],[80,30],[100,30],[110,50],[130,60],[150,60],[170,65],[190,75],[185,0],[70,80],[90,70],[50,70],[35,85],[30,110],[25,140],[50,140],[70,150],[85,130],[60,110],[110,90],[125,110],[145,120],[165,130],[185,140],[205,120],[230,110],[215,90],[100,140],[120,150],[140,165],[160,180],[110,180],[95,160],[50,260],[60,250],[45,285],[90,260],[55,350],[53,365],[130,280],[120,260],[130,240],[145,220],[165,225],[180,245],[195,270],[180,200],[200,190],[220,170],[245,165],[260,150],[280,125],[235,100],[310,120],[335,125],[355,155],[345,100],[380,70],[415,95],[450,110],[445,70],[480,115],[470,130],[440,155],[385,165],[400,150],[410,180],[300,190],[320,170],[340,190],[285,160],[260,190],[430,230],[410,195],[360,220],[340,240],
[205,420],[210,370],[210,340],[220,310],[240,320],[255,290],[265,255],[290,240],[310,220],[330,250],[300,280],[280,300],[240,370],[225,385],[245,420],[260,460],[250,360],[270,390],[290,430],[300,380],[320,340],[345,310],[370,280],[395,270],[430,300],[450,280],[475,290],[410,340],[390,380],[360,410],[330,450],[310,420],[350,450],[375,400],[410,420],[440,370],[470,360],[500,340],[520,300],[540,270],[555,270],[560,300],[590,330],[590,360],[610,370],[630,400],[650,420],[620,450],[590,440],[560,460],[530,470],[500,500],[470,460],[440,470],[420,500],[400,470],[370,530],[340,500],[300,500],[275,540],[250,510],[215,510],[230,520],[205,465],[250,605],[295,570],[335,635],[365,700],[370,575],[395,570],[420,580],[430,640],[430,610],[440,680],[420,780],[430,790],[460,680],[480,610],[500,560],[520,590],[540,560],[480,510],[460,510],[600,470],[640,450],[680,450],[700,460],[735,450],[720,540],[700,510],[680,560],[650,530],[710,400],[735,400],[760,390],[780,380],[855,395],[890,410],[950,360],[910,565],[880,515],[775,190],[820,170],[590,205],[540,180],
[465,935],[500,945],[525,915],[510,870],[530,870],[570,855],[590,880],[625,865],[615,905],[640,950],[670,970],[675,1010],[695,1020],[720,1000],[735,985],[700,930],[660,880],[680,850],[640,800],[610,760],[590,790],[545,780],[535,785],[480,735],[520,730],[540,700],[510,690],[470,690],[570,680],[600,650],[620,620],[600,590],[570,600],[540,620],[650,590],[680,570],[710,640],[640,680],[660,720],[700,740],[720,790],[690,780],[760,730],[780,700],[800,640],[820,660],[770,620],[750,590],[790,585],[800,625],[860,640],[880,610],[860,575],[920,625],[950,640],[1020,695],[980,680],[960,620],[900,680],[925,720],[950,740],[980,750],[1000,790],[1020,810],[1000,835],[960,800],[920,790],[880,780],[850,740],[840,810],[870,840],[900,870],[930,850],[965,870],[1000,880],[1030,900],[1040,1000],[1040,970],[1030,950],[1010,920],[980,920],[950,930],[920,900],[880,920],[840,850],[800,880],[780,900],[760,950],[800,960],[840,1005],[820,1020],[780,1020],[770,950],[730,900],[750,860],[790,820],[820,770],[770,800],[730,800],[730,860],[935,1035],[960,1040],[985,1040],[1010,1030],[1040,1035],[1030,1015],[1000,1000],[970,980],[935,970],[900,985],[880,1000],[855,990],[840,950],[880,960],[920,930],[950,900],[990,950],
[15,20],[30,15],[50,25],[65,35],[55,55],[75,55],[40,45],[90,50],[120,40],[140,45],[155,75],[175,90],[195,100],[80,105],[95,115],[110,120],[75,125],[135,135],[155,145],[175,160],[195,170],[130,195],[150,195],[170,205],[190,220],[210,205],[230,190],[250,215],[270,225],[220,235],[240,250],[205,300],[180,290],[225,270],[245,285],[265,310],[285,265],[310,255],[285,200],[305,205],[325,205],[265,170],[295,135],[320,150],[350,175],[375,210],[395,230],[350,265],[330,290],[310,310],[290,340],[270,350],[255,335],[230,340],[280,410],[300,460],[320,400],[340,380],[360,360],[380,340],[400,310],[420,345],[440,330],[460,330],[480,340],[500,310],[525,340],[545,350],[565,330],[575,380],[555,410],[530,430],[510,440],[490,420],[470,420],[450,440],[430,440],[415,460],[395,500],[380,470],[360,480],[345,530],[320,490],[390,530],[410,550],[430,530],[450,540],[470,560],[490,540],[510,530],[530,510],[550,490],[570,500],[590,520],[610,500],[630,490],[650,480],[665,490],[605,430],[625,360],[640,420],[660,410],[680,420],[700,420],[570,440],[410,620],[400,590],[440,610],[460,580],[480,570],[510,600],[530,580],[555,590],[580,620],[590,560],[610,550],[630,570],[650,620],[665,600],[690,610],[720,590],[745,620],[730,570],[755,560],[775,575],[800,595],[820,590],[835,610],[850,620],[690,650],[720,680],[745,660],[760,690],[790,670],[820,700],[840,680],[860,690],[880,650],[900,640],[930,650],[910,710],[870,720],[840,750],[810,730],[790,760],[760,790],[740,740],[700,700],[670,670],[640,640],[620,670],[595,700],[575,720],[560,770],[620,730],[640,760],[660,790],[680,810],[700,820],[720,840],[750,830],[770,860],[790,860],[810,840],[830,800],[860,790],[890,820],[910,830],[940,800],[970,830],[990,810],[1020,840],[1030,880],[1010,870],[990,900],[970,900],[945,880],[920,870],[895,900],[870,890],[850,920],[830,900],[810,920],[790,950],[820,985],[860,960],[900,940],[940,960],[970,950],[1000,960],[1020,980],[1035,1000],[1010,1005],[985,1000],[960,1010],[930,1000],[900,1020],[1040,950],[1030,930],[1010,960],[900,790],[940,770],[970,780],[1000,760],[1040,810],
[310,300],[330,320],[350,330],[370,320],[395,320],[420,310],[440,300],[455,310],[475,320],[400,400],[420,400],[440,420],[460,400],[480,400],[500,420],[520,400],[540,400],[560,380],[580,400],[600,410],[620,420],[640,430],[540,520],[560,520],[580,500],[600,530],[620,520],[640,510],[660,510],[680,500],[700,490],[720,500],[740,500],[760,520],[780,550],[800,560],[820,560],[840,580],[600,610],[620,590],[640,570],[660,580],[680,610],[700,590],[720,610],[740,590],[760,610],[780,640],[800,680],[820,640],[840,640],[860,660],[880,690],[900,720],[920,750],[940,720],[970,720],[1000,720],[1015,750],[1030,780],[1035,840],[1020,890],[600,560],[640,610],[660,640],[680,680],[700,670],[720,700],[740,700],[760,760],[780,750],[800,770],[820,800],[840,780],[860,760],[880,740],[900,760],[920,810],[940,830],[960,850],[980,860],[1000,850],[850,880],[880,870],[900,900],[930,920],[960,950],[985,960],[1010,990],[1030,970],[1035,1030],[1020,1010],[1000,1020],[980,1020],[960,990],[940,1000],[920,970],[890,950],[860,930],[830,930],[810,900],[790,930],[780,970],[810,1000],[760,900],[720,930],[700,880],[680,900],[650,840],[620,820],[590,840],[570,800],[610,700],[640,720],[580,640],[560,640],[520,630],[500,620],[470,640],[450,610],[430,590],[410,570],[380,540],[360,510],[340,470],[320,460],[300,440],[280,450],[260,420],[240,400],[225,350],[205,330],[190,310],[170,270],[150,250],[125,225],[105,200],[85,180],[75,160],[60,170],[50,190],[45,160],[40,120],[55,95],[75,100],[95,100],[115,70],[135,85],[155,100],[175,115],[195,125],[215,135],[235,135],[255,120],[275,160],[295,165],[315,200],[335,215],[355,240],[375,250],[300,250],[320,280],[340,340],[360,350],[380,370],[400,380],[250,240],[270,270],[285,330],[310,360]
];

const xTickValues = [0, 200, 400, 600, 800, 1000];
const yTickValues = [0, 200, 400, 600, 800, 1000];
const colorTickValues = [200, 400, 600, 800, 1000];
const colorRange = [1, 1043];
const viridis = ['#440154','#482878','#3e4989','#31688e','#26828e','#1f9e89','#35b779','#6ece58','#b5de2b','#fde725'];

const titles = ['Expressivity (τ=0.527, ρ=0.725)', 'Progressivity (τ=0.498, ρ=0.678)', 'Trainability (τ=0.398, ρ=0.560)',
  'Complexity (τ=0.502, ρ=0.676)', 'AZ-NAS (Linear) (τ=0.673, ρ=0.865)', 'AZ-NAS (τ=0.715, ρ=0.894)'];
const captions = ['(a) <i>s</i><sup>ℰ</sup>.', '(b) <i>s</i><sup>𝒫</sup>.', '(c) <i>s</i><sup>𝒯</sup>.',
  '(d) <i>s</i><sup>𝒞</sup>.', '(e) <i>s</i><sup>AZ</sup> (Linear ranking aggregation).', '(f) <i>s</i><sup>AZ</sup> (Non-linear ranking aggregation).'];
const series = [expressivity, progressivity, trainability, complexity, azLinear, azNonLinear];
const xMins = [-27, -27, -43, -29, -50, -50];
const plotLefts = [65, 527, 989, 65, 527, 989];
const plotTops = [26, 26, 26, 367, 367, 367];
const captionXs = [205, 667, 1129, 205, 667, 1129];
const captionYs = [303, 303, 303, 643, 643, 643];

const PLOT_W = 279, PLOT_H = 231, SIDE = 60, HEAD = 26, FOOT = 40;

function hexToRgb(h) {
  return [1, 3, 5].map(i => parseInt(h.substr(i, 2), 16));
}

// reversed viridis: low rank yellow, high rank dark purple
function rankColor(v) {
  const t = (1 - (v - colorRange[0]) / (colorRange[1] - colorRange[0])) * (viridis.length - 1);
  const i = Math.max(0, Math.min(viridis.length - 2, Math.floor(t)));
  const a = hexToRgb(viridis[i]), b = hexToRgb(viridis[i + 1]), f = t - i;
  return `rgb(${a.map((c, k) => Math.round(c + (b[k] - c) * f)).join(',')})`;
}

function addCanvas(left, top, w, h) {
  const c = document.createElement('canvas');
  c.width = w; c.height = h;
  c.style.left = left + 'px'; c.style.top = top + 'px';
  document.body.appendChild(c);
  return c;
}

const frame = {
  id: 'frame',
  afterDatasetsDraw(chart) {
    const a = chart.chartArea, g = chart.ctx;
    g.save();
    g.strokeStyle = '#222';
    g.lineWidth = 1;
    g.strokeRect(Math.round(a.left) + .5, Math.round(a.top) + .5, Math.round(a.width), Math.round(a.height));
    g.restore();
  }
};

function panel(i) {
  const rows = series[i];
  new Chart(addCanvas(plotLefts[i] - SIDE, plotTops[i] - HEAD, PLOT_W + 2 * SIDE, HEAD + PLOT_H + FOOT), {
    type: 'scatter',
    data: { datasets: [{
      data: rows.map(r => ({ x: r[0], y: r[1] })),
      backgroundColor: rows.map(r => rankColor(r.length > 2 ? r[2] : r[0])),
      pointRadius: 3.8,
      borderWidth: 0
    }] },
    options: {
      responsive: false,
      animation: false,
      plugins: {
        legend: { display: false },
        tooltip: { enabled: false },
        title: { display: true, text: titles[i], color: '#111',
          font: { family: 'DejaVu Sans', size: 18.4, weight: 'normal', lineHeight: 1.2 }, padding: { top: 2, bottom: 2 } }
      },
      scales: {
        x: {
          min: xMins[i], max: 1094,
          afterBuildTicks: s => { s.ticks = xTickValues.map(value => ({ value })); },
          afterFit: s => { s.height = FOOT; },
          grid: { color: 'rgba(170,170,170,.3)', tickColor: '#222', tickLength: 4 },
          border: { color: '#222' },
          ticks: { color: '#111', font: { family: 'DejaVu Sans', size: 13 }, padding: 3, maxRotation: 0, autoSkip: false, callback: v => String(v) },
          title: { display: true, text: 'Predicted network ranking', color: '#111',
            font: { family: 'DejaVu Sans', size: 14.85 }, padding: { top: 0, bottom: 1 } }
        },
        y: {
          min: -51, max: 1095,
          afterBuildTicks: s => { s.ticks = yTickValues.map(value => ({ value })); },
          afterFit: s => { s.width = SIDE; },
          grid: { color: 'rgba(170,170,170,.3)', tickColor: '#222', tickLength: 4 },
          border: { color: '#222' },
          ticks: { color: '#111', font: { family: 'DejaVu Sans', size: 13 }, padding: 2, autoSkip: false, callback: v => String(v) },
          title: { display: true, text: 'Ground-truth network ranking', color: '#111',
            font: { family: 'DejaVu Sans', size: 14.85 }, padding: { top: 0, bottom: 2 } }
        },
        // empty axis on the right keeps the plot centred so the title lines up over it
        spacer: {
          axis: 'y',
          position: 'right',
          afterFit: s => { s.width = SIDE; },
          grid: { display: false },
          border: { display: false },
          ticks: { display: false }
        }
      }
    },
    plugins: [frame]
  });

  // colour bar, a single floating bar filled with the same ramp
  new Chart(addCanvas(plotLefts[i] + PLOT_W + 17, plotTops[i] - 5, 52, PLOT_H + 10), {
    type: 'bar',
    data: { labels: ['rank'], datasets: [{
      data: [colorRange],
      barPercentage: 1,
      categoryPercentage: 1,
      backgroundColor: ctx => {
        const area = ctx.chart.chartArea;
        if (!area) return viridis[0];
        const g = ctx.chart.ctx.createLinearGradient(0, area.top, 0, area.bottom);
        viridis.forEach((c, k) => g.addColorStop(k / (viridis.length - 1), c));
        return g;
      }
    }] },
    options: {
      responsive: false,
      animation: false,
      layout: { padding: { top: 5, bottom: 5 } },
      plugins: { legend: { display: false }, tooltip: { enabled: false } },
      scales: {
        x: { display: false },
        y: {
          position: 'right',
          min: colorRange[0], max: colorRange[1],
          afterBuildTicks: s => { s.ticks = colorTickValues.map(value => ({ value })); },
          afterFit: s => { s.width = 40; s.paddingTop = 0; s.paddingBottom = 0; },
          grid: { display: false },
          border: { display: false },
          ticks: { color: '#111', font: { family: 'DejaVu Sans', size: 9.2 }, padding: 5, autoSkip: false, callback: v => String(v) }
        }
      }
    },
    plugins: [frame, {
      id: 'barTicks',
      afterDraw(chart) {
        const a = chart.chartArea, g = chart.ctx, s = chart.scales.y;
        g.save();
        g.strokeStyle = '#222';
        g.beginPath();
        colorTickValues.forEach(v => {
          const y = Math.round(s.getPixelForValue(v)) + .5;
          g.moveTo(a.right, y); g.lineTo(a.right + 3, y);
        });
        g.stroke();
        g.restore();
      }
    }]
  });

  const cap = document.createElement('div');
  cap.className = 'cap';
  cap.style.left = captionXs[i] + 'px';
  cap.style.top = captionYs[i] + 'px';
  cap.innerHTML = captions[i];
  document.body.appendChild(cap);
}

titles.forEach((t, i) => panel(i));
</script>
</body>
</html>
